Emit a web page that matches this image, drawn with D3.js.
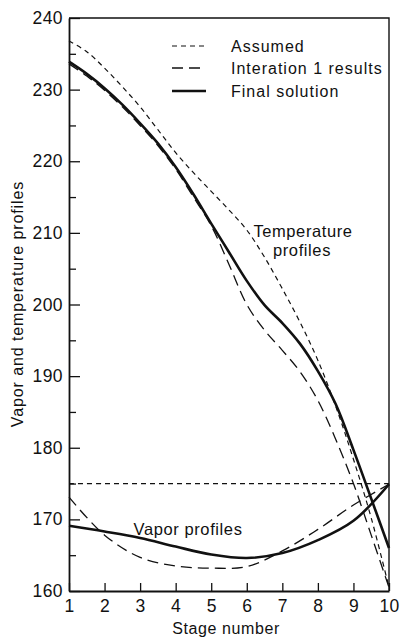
<!DOCTYPE html>
<html>
<head>
<meta charset="utf-8">
<script src="https://cdn.jsdelivr.net/npm/d3@7"></script>
<style>
  html, body { margin: 0; padding: 0; background: #fff; }
  svg { display: block; }
  text { font-family: "Liberation Sans", Arial, Helvetica, sans-serif; fill: #111; }
</style>
</head>
<body>
<svg id="chart" width="400" height="637"></svg>
<script>
// Stage numbers (half-stage resolution for the temperature curves)
const tempStages = [1, 1.5, 2, 2.5, 3, 3.5, 4, 4.5, 5, 5.5, 6, 6.5, 7, 7.5, 8, 8.5, 9, 9.5, 10];
const vaporStages = [1, 2, 3, 4, 5, 6, 7, 8, 9, 10];

// Temperature profiles
const tempAssumed = [236.8, 235.3, 233.0, 230.4, 227.6, 224.4, 221.2, 218.4, 215.8, 213.2, 210.4, 206.6, 202.2, 197.5, 192.2, 185.8, 178.4, 170.2, 160.5];
const tempIteration1 = [233.6, 231.9, 229.9, 227.6, 225.0, 222.2, 218.9, 215.0, 211.0, 205.6, 200.0, 196.4, 193.6, 190.6, 186.6, 181.2, 175.0, 167.8, 160.5];
const tempFinal = [233.9, 232.2, 230.2, 227.9, 225.3, 222.5, 219.2, 215.4, 211.3, 207.3, 203.3, 199.9, 197.4, 194.5, 190.7, 186.1, 179.7, 172.9, 166.0];

// Vapor profiles
const vaporAssumed = [175, 175, 175, 175, 175, 175, 175, 175, 175, 175];
const vaporIteration1 = [173.1, 167.8, 164.7, 163.5, 163.2, 163.4, 165.6, 168.6, 172.0, 174.9];
const vaporFinal = [169.1, 168.3, 167.4, 166.2, 165.1, 164.6, 165.3, 167.1, 169.8, 174.9];

// Axis ticks
const xTicks = [1, 2, 3, 4, 5, 6, 7, 8, 9, 10];
const yMajorTicks = [160, 170, 180, 190, 200, 210, 220, 230, 240];
const yMinorTicks = [165, 175, 185, 195, 205, 215, 225, 235];

const legendLabels = ["Assumed", "Interation 1 results", "Final solution"];

const svg = d3.select("#chart");
const plotLeft = 69, plotRight = 389, plotTop = 18, plotBottom = 591;

const x = d3.scaleLinear().domain([1, 10]).range([plotLeft, plotRight]);
const y = d3.scaleLinear().domain([160, 240]).range([plotBottom, plotTop]);

const styles = {
  assumed: { width: 1.2, dash: "5,4" },
  iteration: { width: 1.3, dash: "11,6" },
  final: { width: 2.6, dash: null }
};

// Axes with inward ticks
const yAxis = svg.append("g")
  .attr("transform", `translate(${plotLeft},0)`)
  .call(d3.axisLeft(y).tickValues(yMajorTicks).tickSize(-11).tickSizeOuter(0).tickPadding(6));
const yMinor = svg.append("g")
  .attr("transform", `translate(${plotLeft},0)`)
  .call(d3.axisLeft(y).tickValues(yMinorTicks).tickSize(-7).tickSizeOuter(0).tickFormat(""));
yMinor.select(".domain").remove();

const xAxis = svg.append("g")
  .attr("transform", `translate(0,${plotBottom})`)
  .call(d3.axisBottom(x).tickValues(xTicks).tickSize(-8).tickSizeOuter(0).tickPadding(9));

[yAxis, yMinor, xAxis].forEach(g => {
  g.selectAll("line").attr("stroke", "#111").attr("stroke-width", 1.3);
  g.selectAll(".domain").attr("stroke", "#111").attr("stroke-width", 1.8);
  g.selectAll("text")
    .attr("font-size", 17.5)
    .attr("letter-spacing", 0.4)
    .attr("font-family", "\"Liberation Sans\", Arial, sans-serif")
    .attr("fill", "#111");
});

// Frame (top and right edges)
svg.append("path")
  .attr("d", `M${plotLeft},${plotTop}H${plotRight}V${plotBottom}`)
  .attr("fill", "none").attr("stroke", "#111").attr("stroke-width", 1.4);

// Curves
const tempLine = d3.line()
  .x((d, i) => x(tempStages[i]))
  .y(d => y(d))
  .curve(d3.curveCatmullRom.alpha(0.5));
const vaporLine = d3.line()
  .x((d, i) => x(vaporStages[i]))
  .y(d => y(d))
  .curve(d3.curveCatmullRom.alpha(0.5));

const series = [
  { gen: tempLine, data: tempAssumed, s: styles.assumed },
  { gen: tempLine, data: tempIteration1, s: styles.iteration },
  { gen: tempLine, data: tempFinal, s: styles.final },
  { gen: vaporLine, data: vaporAssumed, s: styles.assumed },
  { gen: vaporLine, data: vaporIteration1, s: styles.iteration },
  { gen: vaporLine, data: vaporFinal, s: styles.final }
];
series.forEach(d => {
  svg.append("path")
    .attr("d", d.gen(d.data))
    .attr("fill", "none")
    .attr("stroke", "#111")
    .attr("stroke-width", d.s.width)
    .attr("stroke-dasharray", d.s.dash)
    .attr("stroke-linejoin", "round");
});

// Legend
const legendStyles = [styles.assumed, styles.iteration, styles.final];
const legendRows = [46, 68, 91];
legendLabels.forEach((label, i) => {
  svg.append("line")
    .attr("x1", 172).attr("x2", 206)
    .attr("y1", legendRows[i]).attr("y2", legendRows[i])
    .attr("stroke", "#111")
    .attr("stroke-width", legendStyles[i].width)
    .attr("stroke-dasharray", legendStyles[i].dash);
  svg.append("text")
    .attr("x", 231).attr("y", legendRows[i] + 5.5)
    .attr("font-size", 16)
    .attr("letter-spacing", 1.0)
    .text(label);
});

// Annotations
svg.append("text").attr("x", 303).attr("y", 237)
  .attr("text-anchor", "middle").attr("font-size", 16.5).attr("letter-spacing", 0.6).text("Temperature");
svg.append("text").attr("x", 302).attr("y", 256)
  .attr("text-anchor", "middle").attr("font-size", 16.5).attr("letter-spacing", 0.6).text("profiles");
svg.append("text").attr("x", 188).attr("y", 535)
  .attr("text-anchor", "middle").attr("font-size", 16.5).attr("letter-spacing", 0.6).text("Vapor profiles");

// Axis titles
svg.append("text").attr("x", 226).attr("y", 634)
  .attr("text-anchor", "middle").attr("font-size", 16).attr("letter-spacing", 0.6).text("Stage number");
svg.append("text")
  .attr("transform", "translate(23,304) rotate(-90)")
  .attr("text-anchor", "middle").attr("font-size", 16).attr("letter-spacing", 0.9)
  .text("Vapor and temperature profiles");
</script>
</body>
</html>
